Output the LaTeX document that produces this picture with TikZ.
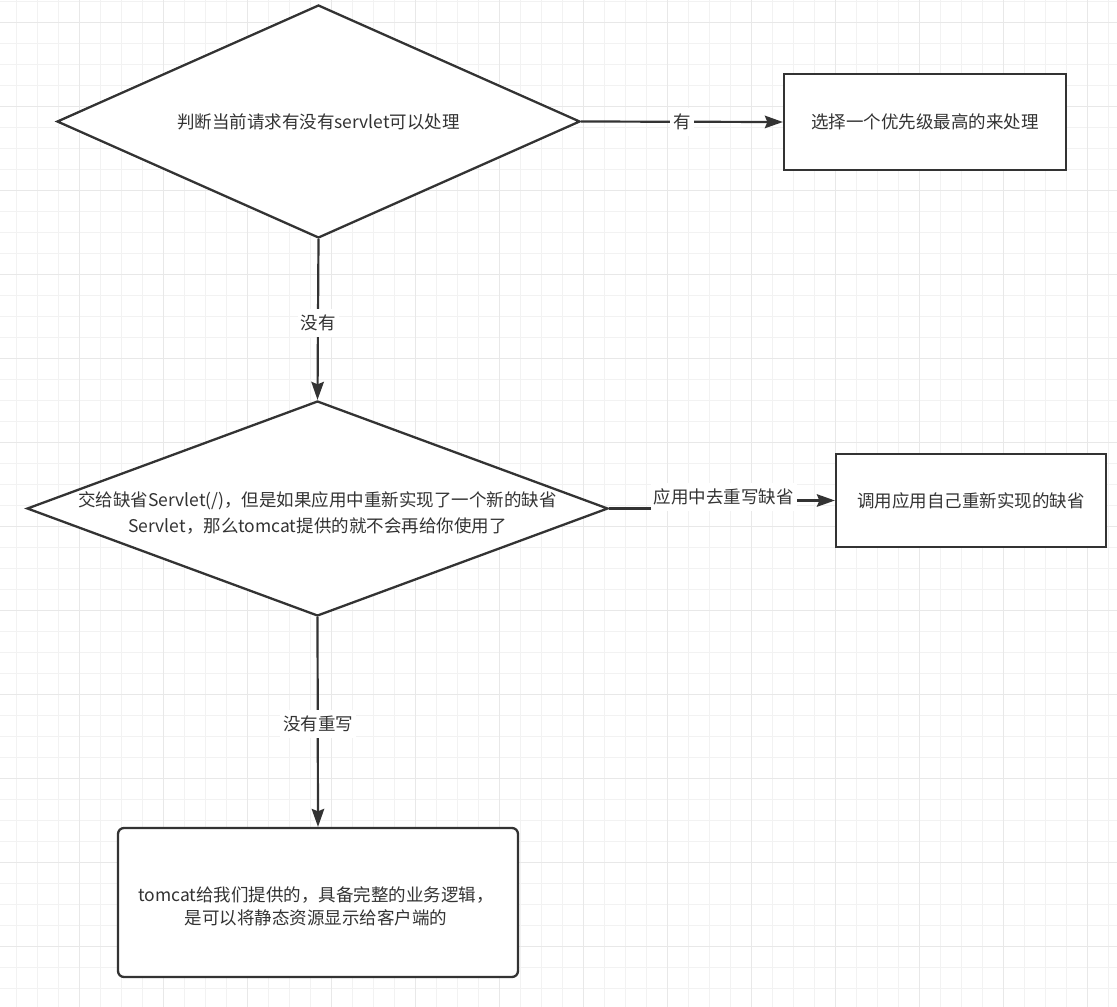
\documentclass[tikz,border=0pt]{standalone}
\usepackage{fontspec}
\setmainfont{Noto Sans CJK SC}
\usetikzlibrary{shapes.geometric,arrows.meta}
\definecolor{ink}{HTML}{333333}
\definecolor{gridminor}{HTML}{F2F2F2}
\definecolor{gridmajor}{HTML}{E8E8E8}
\tikzset{
  shapeline/.style={draw=ink, line width=2.3pt, fill=white},
  dia/.style={shapeline, shape=diamond, inner sep=0pt},
  boxnode/.style={shapeline, rectangle, inner sep=0pt},
  txt/.style={text=ink, font=\fontsize{17.5}{25}\selectfont, align=center, inner sep=0pt},
  lab/.style={text=ink, font=\fontsize{17.5}{21}\selectfont, fill=white, inner xsep=3pt, inner ysep=6pt},
  arr/.style={draw=ink, line width=2.2pt, -{Stealth[length=18pt, width=12.5pt, inset=2.5pt]}},
  gline/.style={draw=gridminor, line width=1.5pt},
  gmajor/.style={draw=gridmajor, line width=1.5pt}
}
\begin{document}
\begin{tikzpicture}[x=1pt,y=-1pt]
\useasboundingbox (0,0) rectangle (1117,1007);
\fill[white] (0,0) rectangle (1117,1007);
% grid
\foreach \k in {0,...,52} { \draw[gline] ({16.7+21*\k},0) -- ({16.7+21*\k},1007); }
\foreach \k in {0,...,47} { \draw[gline] (0,{1.7+21*\k}) -- (1117,{1.7+21*\k}); }
\foreach \k in {0,...,12} { \draw[gmajor] ({79.7+84*\k},0) -- ({79.7+84*\k},1007); }
\foreach \k in {0,...,11} { \draw[gmajor] (0,{22.7+84*\k}) -- (1117,{22.7+84*\k}); }

% shapes
\node[dia, minimum width=523pt, minimum height=233pt] (d1) at (318.5,121.5) {};
\node[txt] (t1) at (d1) {判断当前请求有没有servlet可以处理};
\node[boxnode, minimum width=282pt, minimum height=96pt] (b1) at (925,122) {};
\node[txt] (tb1) at (b1) {选择一个优先级最高的来处理};

\node[dia, minimum width=581pt, minimum height=215pt] (d2) at (317.5,508.5) {};
\node[txt] (t2) at (317.5,513) {交给缺省Servlet(/)，但是如果应用中重新实现了一个新的缺省\\Servlet，那么tomcat提供的就不会再给你使用了};
\node[boxnode, minimum width=270pt, minimum height=93pt] (b2) at (971,500.5) {};
\node[txt] (tb2) at (b2) {调用应用自己重新实现的缺省};

\node[boxnode, rounded corners=6pt, minimum width=400pt, minimum height=149pt] (b3) at (318,902.5) {};
\node[txt, font=\fontsize{17.5}{23}\selectfont] (tb3) at (316,906) {tomcat给我们提供的，具备完整的业务逻辑，\\是可以将静态资源显示给客户端的};

% connectors
\draw[arr] (d1.east) -- (b1.west);
\node[lab] (l1) at (682,122) {有};
\draw[arr] (d1.south) -- (d2.north);
\node[lab] (l2) at (318,323) {没有};
\draw[arr] (d2.east) -- (722,508.5) |- (b2.west);
\node[lab] (l3) at (723.5,497) {应用中去重写缺省};
\draw[arr] (d2.south) -- (b3.north);
\node[lab] (l4) at (318,724) {没有重写};
\end{tikzpicture}
\end{document}
